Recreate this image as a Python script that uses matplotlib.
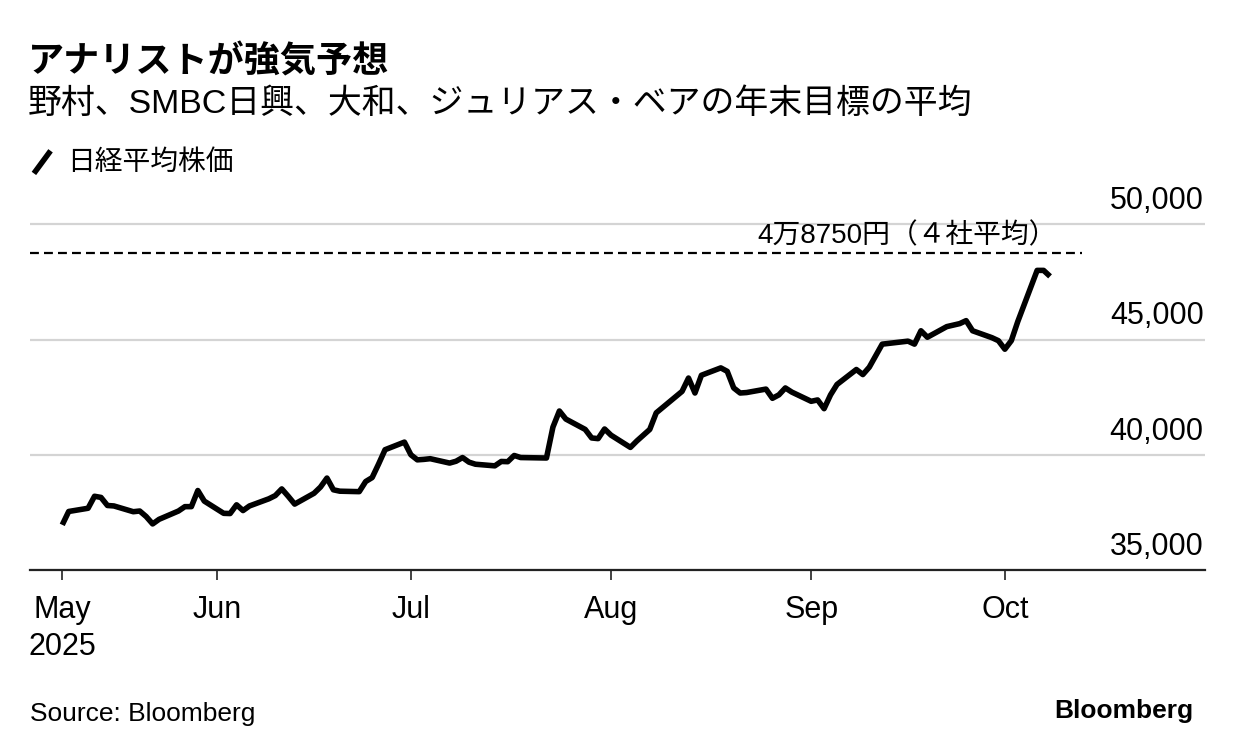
import matplotlib.pyplot as plt
import pandas as pd
from matplotlib.lines import Line2D


# ------------------------------------------------------------
# Data
# ------------------------------------------------------------

DATES = [
    "2025-05-08", "2025-05-09", "2025-05-12", "2025-05-13", "2025-05-14",
    "2025-05-15", "2025-05-16", "2025-05-19", "2025-05-20", "2025-05-21",
    "2025-05-22", "2025-05-23", "2025-05-26", "2025-05-27", "2025-05-28",
    "2025-05-29", "2025-05-30",
    "2025-06-02", "2025-06-03", "2025-06-04", "2025-06-05", "2025-06-06",
    "2025-06-09", "2025-06-10", "2025-06-11", "2025-06-12", "2025-06-13",
    "2025-06-16", "2025-06-17", "2025-06-18", "2025-06-19", "2025-06-20",
    "2025-06-23", "2025-06-24", "2025-06-25", "2025-06-26", "2025-06-27",
    "2025-06-30",
    "2025-07-01", "2025-07-02", "2025-07-03", "2025-07-04", "2025-07-07",
    "2025-07-08", "2025-07-09", "2025-07-10", "2025-07-11", "2025-07-14",
    "2025-07-15", "2025-07-16", "2025-07-17", "2025-07-18", "2025-07-22",
    "2025-07-23", "2025-07-24", "2025-07-25", "2025-07-28", "2025-07-29",
    "2025-07-30", "2025-07-31",
    "2025-08-01", "2025-08-04", "2025-08-05", "2025-08-06", "2025-08-07",
    "2025-08-08", "2025-08-12", "2025-08-13", "2025-08-14", "2025-08-15",
    "2025-08-18", "2025-08-19", "2025-08-20", "2025-08-21", "2025-08-22",
    "2025-08-25", "2025-08-26", "2025-08-27", "2025-08-28", "2025-08-29",
    "2025-09-01", "2025-09-02", "2025-09-03", "2025-09-04", "2025-09-05",
    "2025-09-08", "2025-09-09", "2025-09-10", "2025-09-11", "2025-09-12",
    "2025-09-16", "2025-09-17", "2025-09-18", "2025-09-19", "2025-09-22",
    "2025-09-24", "2025-09-25", "2025-09-26", "2025-09-29", "2025-09-30",
    "2025-10-01", "2025-10-02", "2025-10-03", "2025-10-06", "2025-10-07",
    "2025-10-08",
]

NIKKEI = [
    36960, 37540, 37680, 38200, 38150,
    37800, 37780, 37530, 37560, 37320,
    37000, 37200, 37560, 37750, 37750,
    38450, 37990,
    37460, 37450, 37830, 37580, 37780,
    38090, 38230, 38520, 38200, 37860,
    38330, 38600, 38990, 38480, 38420,
    38400, 38840, 39010, 39600, 40220,
    40550,
    40000, 39780, 39800, 39830, 39640,
    39720, 39880, 39680, 39590, 39520,
    39710, 39700, 39970, 39880, 39860,
    41200, 41900, 41550, 41100, 40730,
    40700, 41120,
    40850, 40320, 40600, 40850, 41100,
    41820, 42750, 43330, 42680, 43450,
    43770, 43620, 42900, 42680, 42700,
    42850, 42450, 42600, 42900, 42720,
    42320, 42380, 42000, 42600, 43050,
    43700, 43480, 43800, 44300, 44800,
    44930, 44800, 45380, 45100, 45560,
    45690, 45820, 45380, 45080, 44950,
    44580, 44950, 45780, 48000, 48000,
    47740,
]

TARGET_AVERAGE = 48750

Y_TICKS = [35000, 40000, 45000, 50000]
Y_TICK_LABELS = ["35,000", "40,000", "45,000", "50,000"]

X_TICKS = ["2025-05-08", "2025-06-01", "2025-07-01", "2025-08-01",
           "2025-09-01", "2025-10-01"]
X_TICK_LABELS = ["May\n2025", "Jun", "Jul", "Aug", "Sep", "Oct"]

X_MIN = "2025-05-03"
X_MAX = "2025-11-01"

TITLE = "アナリストが強気予想"
SUBTITLE = "野村、SMBC日興、大和、ジュリアス・ベアの年末目標の平均"
SERIES_LABEL = "日経平均株価"
TARGET_LABEL = "4万8750円（４社平均）"
SOURCE = "Source: Bloomberg"


# ------------------------------------------------------------
# Style
# ------------------------------------------------------------

plt.rcParams["font.family"] = ["Liberation Sans", "Noto Sans CJK JP"]

TEXT_COLOR = "#000000"
GRID_COLOR = "#d4d4d4"


def main():
    dates = pd.to_datetime(DATES)

    fig = plt.figure(figsize=(12.33, 7.54), dpi=100)
    ax = fig.add_axes([0.0243, 0.244, 0.953, 0.4891])

    # Nikkei line
    ax.plot(
        dates,
        NIKKEI,
        color="black",
        linewidth=4.0,
        solid_joinstyle="round",
        solid_capstyle="butt",
        zorder=3
    )

    # Analysts' average year-end target
    ax.axhline(
        TARGET_AVERAGE,
        xmin=0,
        xmax=0.8953,
        color="black",
        linewidth=1.6,
        dashes=(4, 2.3),
        zorder=2
    )

    ax.annotate(
        TARGET_LABEL,
        xy=(0.874, TARGET_AVERAGE),
        xycoords=ax.get_yaxis_transform(),
        xytext=(0, 7),
        textcoords="offset points",
        ha="right",
        va="baseline",
        fontsize=20,
        color=TEXT_COLOR
    )

    # Axis limits
    ax.set_xlim(pd.Timestamp(X_MIN), pd.Timestamp(X_MAX))
    ax.set_ylim(35000, 51000)

    # Y grid and labels above the lines, on the right
    ax.set_yticks(Y_TICKS)
    ax.tick_params(axis="y", left=False, labelleft=False)
    ax.grid(axis="y", color=GRID_COLOR, linewidth=1.6)
    ax.set_axisbelow(True)

    for value, label in zip(Y_TICKS, Y_TICK_LABELS):
        ax.annotate(
            label,
            xy=(1.0, value),
            xycoords=ax.get_yaxis_transform(),
            xytext=(-1, 11),
            textcoords="offset points",
            ha="right",
            va="baseline",
            fontsize=22,
            color=TEXT_COLOR
        )

    # X axis
    ax.set_xticks(pd.to_datetime(X_TICKS))
    ax.set_xticklabels(X_TICK_LABELS)
    ax.tick_params(
        axis="x",
        length=7,
        width=1.2,
        color="#222222",
        pad=11,
        labelsize=22,
        labelcolor=TEXT_COLOR
    )
    for tick_label in ax.get_xticklabels():
        tick_label.set_linespacing(1.3)

    for side in ["top", "left", "right"]:
        ax.spines[side].set_visible(False)
    ax.spines["bottom"].set_color("#222222")
    ax.spines["bottom"].set_linewidth(1.6)

    # Titles
    fig.text(0.0227, 0.916, TITLE, fontsize=26, fontweight="bold",
             ha="left", va="center", color=TEXT_COLOR)
    fig.text(0.0227, 0.862, SUBTITLE, fontsize=24.4,
             ha="left", va="center", color=TEXT_COLOR)

    # Legend: slash marker + label
    fig.add_artist(Line2D(
        [0.0275, 0.041], [0.770, 0.800],
        transform=fig.transFigure,
        color="black",
        linewidth=4,
        solid_capstyle="butt"
    ))
    fig.text(0.0545, 0.784, SERIES_LABEL, fontsize=20,
             ha="left", va="center", color=TEXT_COLOR)

    # Footer
    fig.text(0.0243, 0.0530, SOURCE, fontsize=19,
             ha="left", va="center", color=TEXT_COLOR)
    fig.text(0.9676, 0.0570, "Bloomberg", fontsize=19, fontweight="bold",
             ha="right", va="center", color=TEXT_COLOR)

    fig.savefig("out.png", dpi=100)
    plt.close(fig)


if __name__ == "__main__":
    main()
